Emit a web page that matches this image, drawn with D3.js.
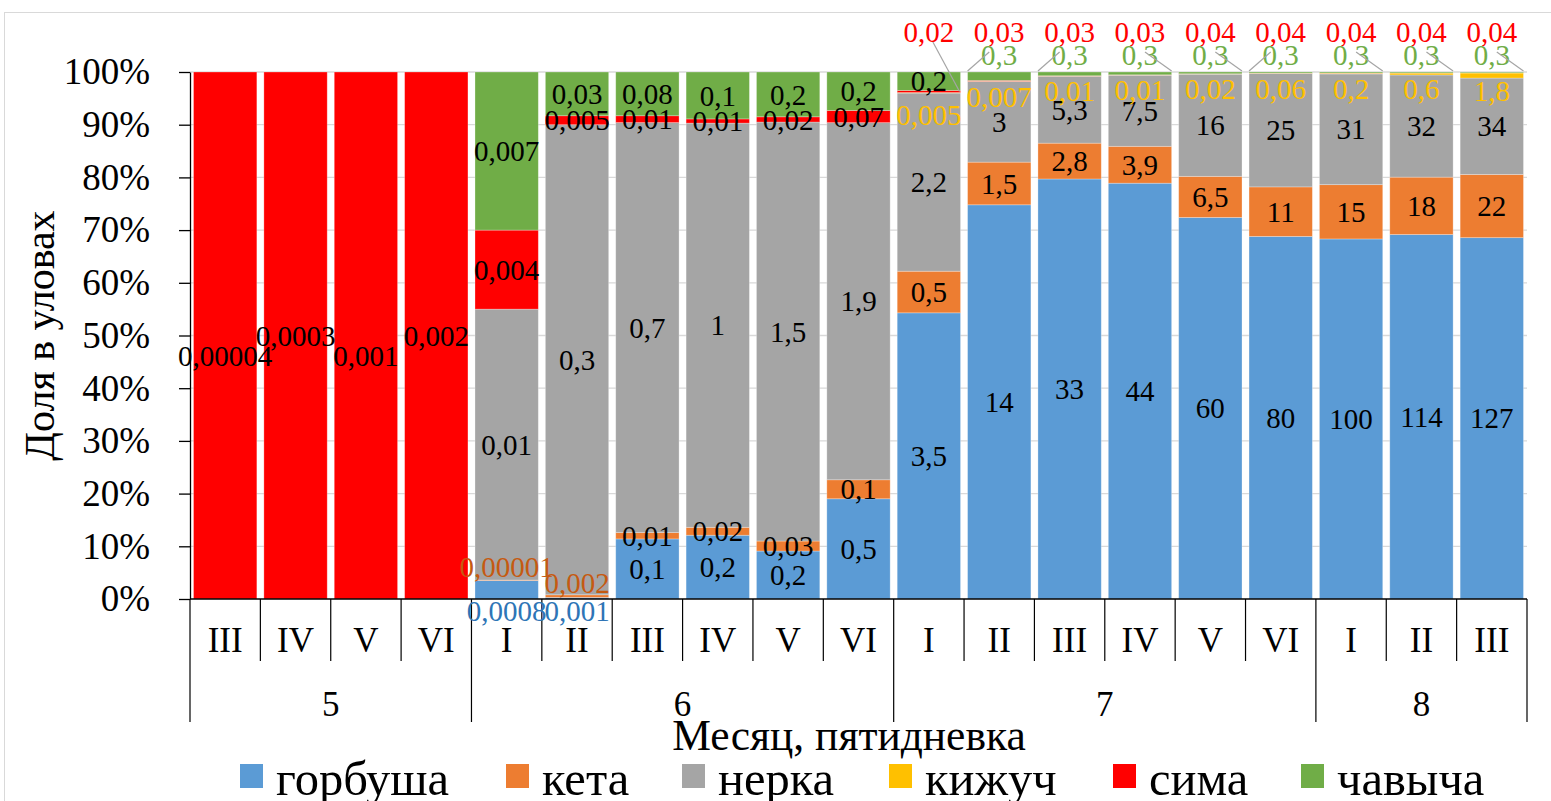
<!DOCTYPE html>
<html><head><meta charset="utf-8">
<script src="https://cdn.jsdelivr.net/npm/d3@7"></script>
<style>body{margin:0;background:#fff} svg{display:block} text{font-family:"Liberation Serif","Times New Roman",serif}</style>
</head><body><svg id="c" width="1551" height="801"></svg>
<script>
// ---- data ----
const months  = ["5","5","5","5","6","6","6","6","6","6","7","7","7","7","7","7","8","8","8"];
const pentads = ["III","IV","V","VI","I","II","III","IV","V","VI","I","II","III","IV","V","VI","I","II","III"];
const seriesNames = ["горбуша","кета","нерка","кижуч","сима","чавыча"];
const seriesColors = ["#5B9BD5","#ED7D31","#A5A5A5","#FFC000","#FF0000","#70AD47"];
// share in catches, %
const gorbusha = [0,0,0,0,3.5,0.3,11.4,12.1,9.1,19.0,54.3,74.8,79.7,78.9,72.4,68.8,68.3,69.2,68.6];
const keta     = [0,0,0,0,0.1,0.5,1.2,1.5,1.9,3.6,7.9,8.1,6.8,7.0,7.8,9.4,10.3,10.9,12.0];
const nerka    = [0,0,0,0,51.4,89.2,77.8,76.7,79.5,67.7,33.8,15.3,12.7,13.5,19.4,21.5,21.0,19.4,18.3];
const kizhuch  = [0,0,0,0,0,0,0,0,0,0,0.1,0.04,0.02,0.02,0.02,0.05,0.14,0.36,0.97];
const sima     = [100,100,100,100,15.0,1.7,1.3,0.8,1.0,2.3,0.4,0.16,0.07,0.05,0.05,0.03,0.03,0.02,0.02];
const chavycha = [0,0,0,0,30.0,8.3,8.3,8.9,8.5,7.3,3.5,1.6,0.71,0.53,0.33,0.22,0.2,0.18,0.16];
// data labels (catch values)
const lblGorbusha = [null,null,null,null,"0,0008","0,001","0,1","0,2","0,2","0,5","3,5","14","33","44","60","80","100","114","127"];
const lblKeta     = [null,null,null,null,"0,00001","0,002","0,01","0,02","0,03","0,1","0,5","1,5","2,8","3,9","6,5","11","15","18","22"];
const lblNerka    = [null,null,null,null,"0,01","0,3","0,7","1","1,5","1,9","2,2","3","5,3","7,5","16","25","31","32","34"];
const lblKizhuch  = [null,null,null,null,null,null,null,null,null,null,"0,005","0,007","0,01","0,01","0,02","0,06","0,2","0,6","1,8"];
const lblSima     = ["0,00004","0,0003","0,001","0,002","0,004","0,005","0,01","0,01","0,02","0,07","0,02","0,03","0,03","0,03","0,04","0,04","0,04","0,04","0,04"];
const lblChavycha = [null,null,null,null,"0,007","0,03","0,08","0,1","0,2","0,2","0,2","0,3","0,3","0,3","0,3","0,3","0,3","0,3","0,3"];
const yTicks = [0,0.1,0.2,0.3,0.4,0.5,0.6,0.7,0.8,0.9,1.0];
const yTitle = "Доля в уловах";
const xTitle = "Месяц, пятидневка";

// ---- build ----
const values = [gorbusha,keta,nerka,kizhuch,sima,chavycha];
const labels = [lblGorbusha,lblKeta,lblNerka,lblKizhuch,lblSima,lblChavycha];
const rows = pentads.map((p,i)=>{const r={i};seriesNames.forEach((s,k)=>r[s]=values[k][i]);return r;});
const stacked = d3.stack().keys(seriesNames).offset(d3.stackOffsetExpand)(rows);

const svg = d3.select("#c");
const L=190,R=1527,T=72,B=599;
const x = d3.scaleBand().domain(d3.range(rows.length)).range([L,R]).paddingInner(0.1).paddingOuter(0.05);
const y = d3.scaleLinear().domain([0,1]).range([B,T]);
const step = x.step(), bw = x.bandwidth();

svg.append("rect").attr("x",4.5).attr("y",12.5).attr("width",1600).attr("height",900)
  .attr("fill","none").attr("stroke","#D9D9D9");

// gridlines
svg.append("g").selectAll("line").data(yTicks.slice(1)).join("line")
  .attr("x1",L).attr("x2",R).attr("y1",d=>y(d)).attr("y2",d=>y(d))
  .attr("stroke","#D9D9D9").attr("stroke-width",1.3);

// bars
const g = svg.append("g");
stacked.forEach((ser,k)=>{
  g.append("g").attr("fill",seriesColors[k]).selectAll("rect").data(ser).join("rect")
    .attr("x",(d,i)=>x(i)).attr("width",bw)
    .attr("y",d=>y(d[1])).attr("height",d=>Math.max(0,y(d[0])-y(d[1])))
    .attr("stroke","#fff").attr("stroke-opacity",0.35).attr("stroke-width",0.8);
});

// y axis
const ya = svg.append("g").attr("transform",`translate(${L},0)`)
  .call(d3.axisLeft(y).tickValues(yTicks).tickFormat(d3.format(".0%")).tickSize(11).tickSizeOuter(0).tickPadding(29));
ya.attr("font-family",null);
ya.select(".domain").attr("stroke","#000").attr("stroke-width",1.3);
ya.selectAll(".tick line").attr("stroke","#000").attr("stroke-width",1.3);
ya.selectAll("text").attr("font-size",37).attr("fill","#000");

svg.append("text").attr("transform",`translate(54,${(T+B)/2}) rotate(-90)`)
  .attr("text-anchor","middle").attr("font-size",42).text(yTitle);

// x axis (multi-level)
const xa = svg.append("g");
xa.append("line").attr("x1",L).attr("x2",R).attr("y1",B).attr("y2",B).attr("stroke","#000").attr("stroke-width",1.3);
const groupBounds=[0];
months.forEach((m,i)=>{ if(i>0 && m!==months[i-1]) groupBounds.push(i); });
groupBounds.push(months.length);
d3.range(rows.length+1).forEach(i=>{
  const xx = L + i*step;
  xa.append("line").attr("x1",xx).attr("x2",xx).attr("y1",B).attr("y2",groupBounds.includes(i)?722:661)
    .attr("stroke","#000").attr("stroke-width",1.2);
});
xa.selectAll("text.p").data(pentads).join("text").attr("class","p")
  .attr("x",(d,i)=>x(i)+bw/2).attr("y",640).attr("dy","0.35em").attr("text-anchor","middle")
  .attr("font-size",35).text(d=>d);
for(let j=0;j<groupBounds.length-1;j++){
  const a=groupBounds[j], b=groupBounds[j+1];
  xa.append("text").attr("x",L+(a+b)/2*step).attr("y",704).attr("dy","0.35em").attr("text-anchor","middle")
    .attr("font-size",35).text(months[a]);
}
svg.append("text").attr("x",849).attr("y",735).attr("dy","0.35em").attr("text-anchor","middle")
  .attr("font-size",43.5).text(xTitle);

// data labels
const lg = svg.append("g");
const lineG = svg.append("g");
labels.forEach((arr,k)=>{
  arr.forEach((t,i)=>{
    if(t==null) return;
    const seg = stacked[k][i];
    const y0=y(seg[0]), y1=y(seg[1]);
    let cy=(y0+y1)/2, cx=x(i)+bw/2, col="#000";
    if(k===4 && i<4) cy += (i%2===0?20:0);
    if(k===0 && i<=5) { cy = B+12; col="#2E75B6"; }
    if(k===1 && i<=5) { cy = cy-13; col="#C55A11"; }
    if(k===3) { cy = cy + (i===10?22:15); col="#FFC000"; }
    if(k===4 && i>=10) {
      cy = T-40; col="#FF0000";
      if(i===10) lineG.append("line").attr("x1",cx+4).attr("y1",T-30).attr("x2",x(i)+bw-1).attr("y2",(y0+y1)/2)
        .attr("stroke","#A5A5A5").attr("stroke-width",1.2);
    }
    if(k===5 && i>=11) {
      cy = T-17; col="#70AD47";
      const left = [11,12,15].includes(i);
      lineG.append("line").attr("x1",left?cx-10:cx+5).attr("y1",T-20).attr("x2",left?x(i):x(i)+bw).attr("y2",T-1)
        .attr("stroke","#A5A5A5").attr("stroke-width",1.2);
    }
    lg.append("text").attr("x",cx).attr("y",cy).attr("dy","0.35em").attr("text-anchor","middle")
      .attr("font-size",29).attr("fill",col).text(t);
  });
});

// legend
const legX = [240,506,682,889,1113,1301];
const leg = svg.append("g");
seriesNames.forEach((s,k)=>{
  leg.append("rect").attr("x",legX[k]).attr("y",764).attr("width",23).attr("height",24).attr("fill",seriesColors[k]);
  leg.append("text").attr("x",legX[k]+36).attr("y",778).attr("dy","0.35em").attr("font-size",48.5).text(s);
});
</script></body></html>
